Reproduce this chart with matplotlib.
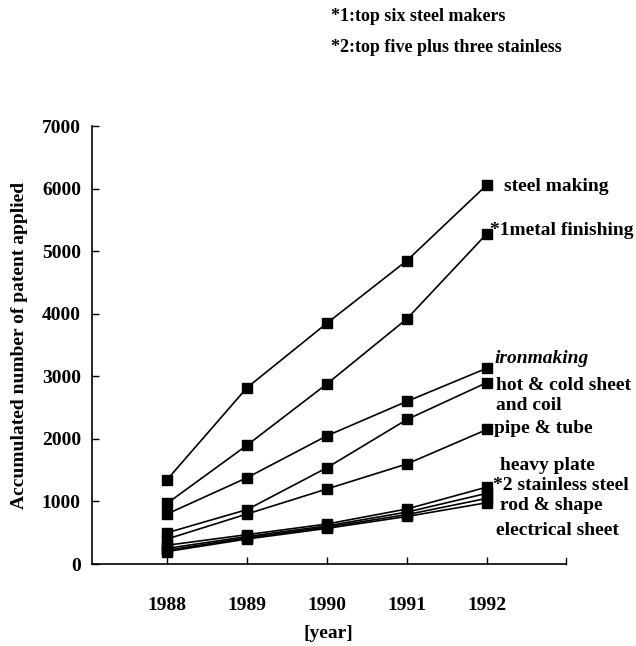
import matplotlib
matplotlib.use("Agg")
import matplotlib.pyplot as plt

years = [1988, 1989, 1990, 1991, 1992]
steel_making = [1350, 2820, 3850, 4850, 6060]
metal_finishing = [970, 1900, 2880, 3920, 5280]
ironmaking = [800, 1380, 2050, 2600, 3130]
hot_cold_sheet = [500, 870, 1540, 2310, 2900]
pipe_tube = [400, 800, 1200, 1600, 2150]
heavy_plate = [300, 470, 640, 880, 1230]
stainless_steel = [250, 440, 610, 830, 1130]
rod_shape = [220, 420, 590, 790, 1050]
electrical_sheet = [200, 400, 570, 760, 980]

series = [steel_making, metal_finishing, ironmaking, hot_cold_sheet, pipe_tube,
          heavy_plate, stainless_steel, rod_shape, electrical_sheet]

yticks = [0, 1000, 2000, 3000, 4000, 5000, 6000, 7000]

plt.rcParams['font.family'] = ['Liberation Serif', 'DejaVu Serif']

fig = plt.figure(figsize=(6.36, 6.46), dpi=100)
ax = fig.add_axes([0.1447, 0.1269, 0.7453, 0.678])

for s in series:
    ax.plot(years, s, color='black', lw=1.2, marker='s', ms=6.5, mec='black', mfc='black')

ax.set_xlim(1987.06, 1992.99)
ax.set_ylim(0, 7000)
ax.set_xticks(years)
ax.set_yticks(yticks)
ax.set_xticklabels([str(y) for y in years], fontsize=14, fontweight='bold')
ax.set_yticklabels([str(v) for v in yticks], fontsize=14, fontweight='bold')
ax.tick_params(axis='x', direction='in', length=5, width=1, pad=24)
ax.tick_params(axis='y', direction='in', length=5, width=1, pad=8)
ax.spines['top'].set_visible(False)
ax.spines['right'].set_visible(False)
for sp in ['left', 'bottom']:
    ax.spines[sp].set_linewidth(1.2)
# small end tick at right of x-axis
ax.plot([1992.99, 1992.99], [0, 90], color='black', lw=1, clip_on=False)

ax.set_ylabel('Accumulated number of patent applied', fontsize=14, fontweight='bold', labelpad=10)
fig.text(0.516, 0.02, '[year]', fontsize=14, fontweight='bold', ha='center', va='center')

lab_kw = dict(fontsize=14, fontweight='bold', va='center', ha='left')
ax.text(1992.22, 6040, 'steel making', **lab_kw)
ax.text(1992.04, 5330, '*1metal finishing', **lab_kw)
ax.text(1992.09, 3290, 'ironmaking', style='italic', **lab_kw)
ax.text(1992.12, 2860, 'hot & cold sheet', **lab_kw)
ax.text(1992.12, 2540, 'and coil', **lab_kw)
ax.text(1992.09, 2160, 'pipe & tube', **lab_kw)
ax.text(1992.16, 1580, 'heavy plate', **lab_kw)
ax.text(1992.07, 1260, '*2 stainless steel', **lab_kw)
ax.text(1992.16, 940, 'rod & shape', **lab_kw)
ax.text(1992.12, 530, 'electrical sheet', **lab_kw)

fig.text(0.52, 0.975, '*1:top six steel makers', fontsize=13, fontweight='bold', ha='left', va='center')
fig.text(0.52, 0.927, '*2:top five plus three stainless', fontsize=13, fontweight='bold', ha='left', va='center')

fig.savefig('out.png', dpi=100)
